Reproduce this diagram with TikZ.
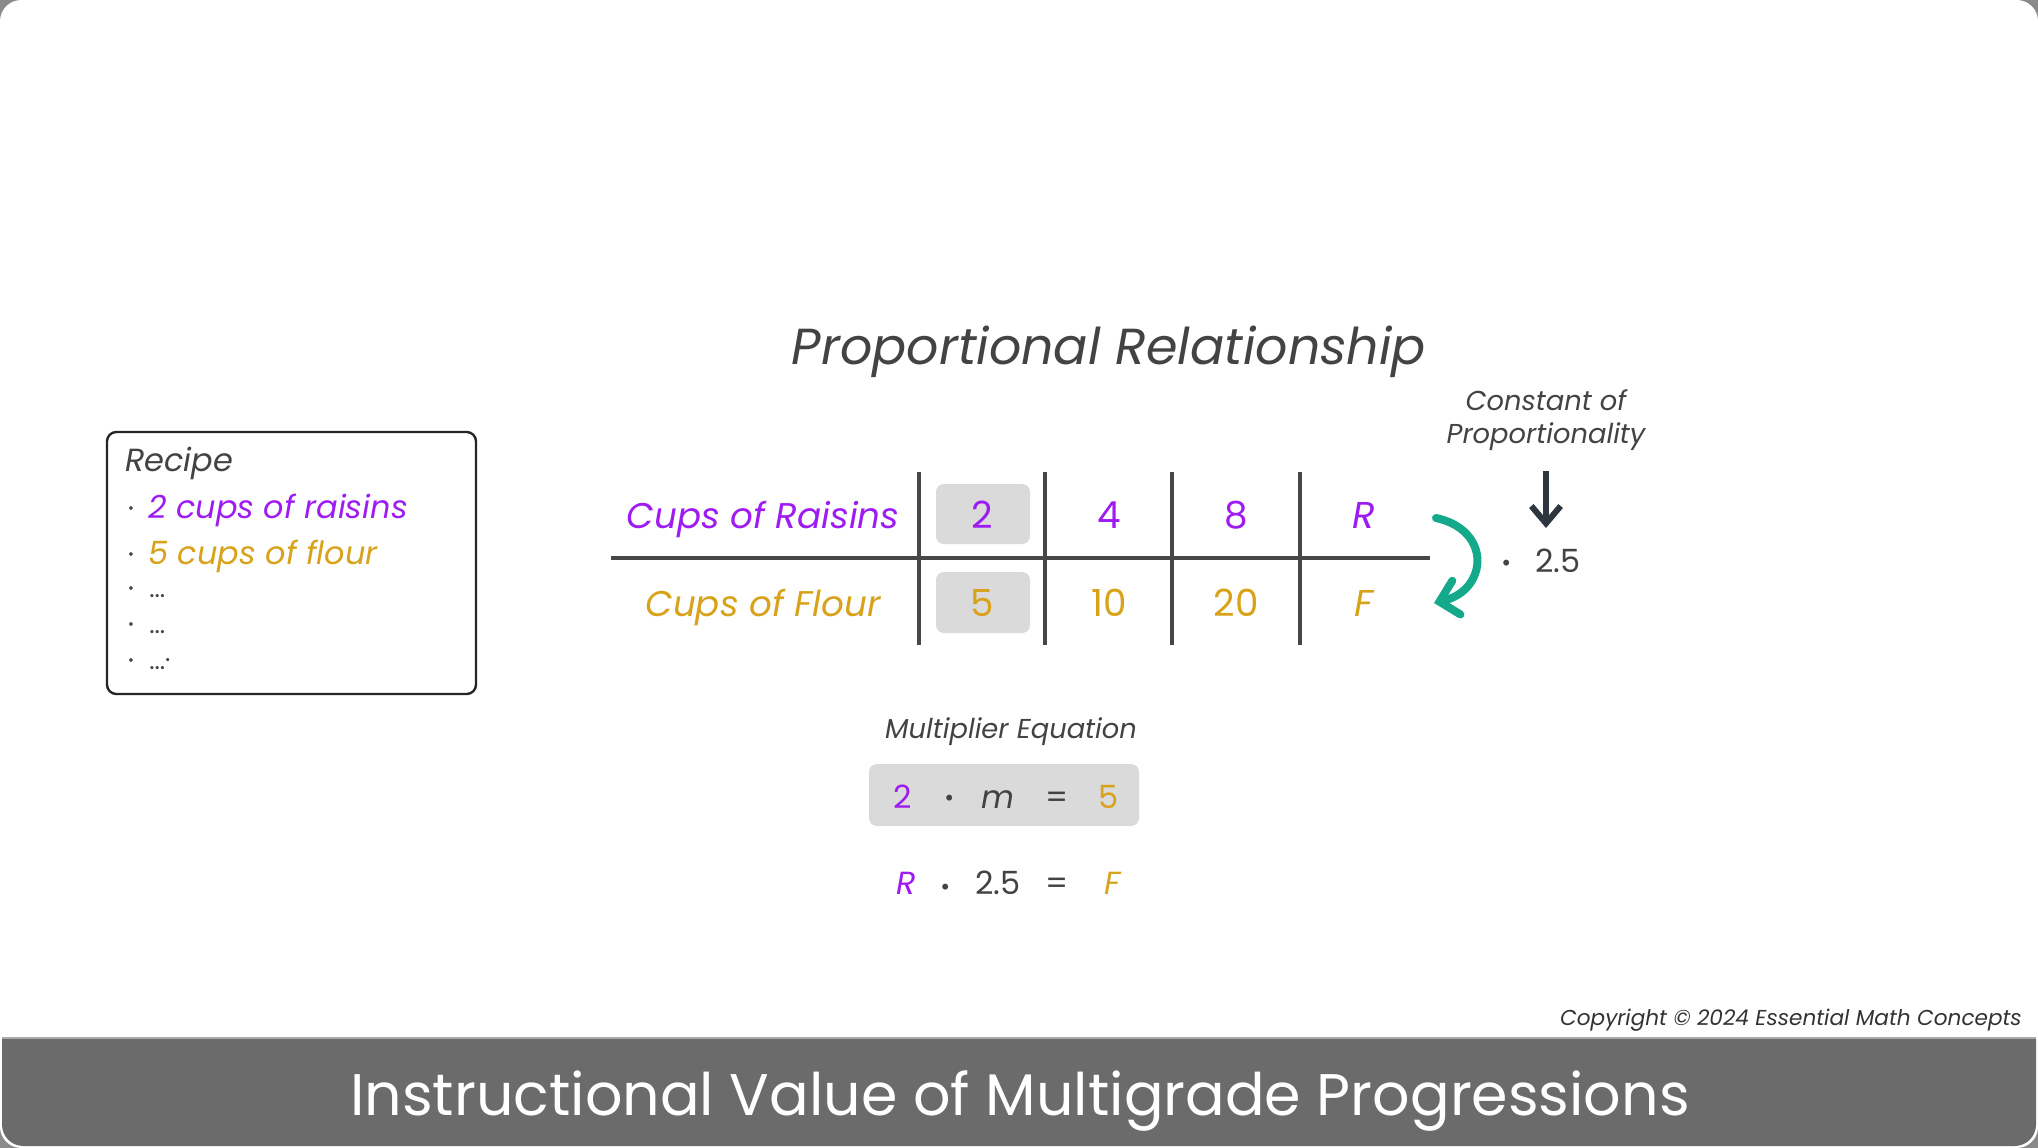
\documentclass[tikz,border=0pt]{standalone}
\usepackage{fontspec}
\setmainfont{Poppins}
\usetikzlibrary{arrows.meta}
\definecolor{purp}{HTML}{9E1CF2}
\definecolor{gold}{HTML}{D8A31A}
\definecolor{txtgray}{HTML}{434343}
\definecolor{boxgray}{HTML}{DADADA}
\definecolor{linegray}{HTML}{474747}
\definecolor{tealc}{HTML}{14A98B}
\definecolor{barcol}{HTML}{6B6B6B}
\definecolor{barline}{HTML}{ABABAB}
\definecolor{arrdark}{HTML}{2E3740}
\definecolor{framecol}{HTML}{8A8A8A}
\newcommand\myfs[1]{\fontsize{#1}{#1}\selectfont}
\tikzset{
  txt/.style={inner sep=0pt, anchor=base, text=txtgray},
  ttl/.style={txt, font=\myfs{38}\itshape},
  cell/.style={txt, font=\myfs{28}},
  rowlbl/.style={txt, font=\myfs{26.8}\itshape},
  recipe/.style={txt, anchor=base west, font=\myfs{24}\itshape},
  bul/.style={txt, font=\myfs{22}},
  smallit/.style={txt, font=\myfs{20.5}\itshape},
  eq/.style={txt, font=\myfs{24}},
  eqdot/.style={txt, font=\myfs{36}},
  hilite/.style={fill=boxgray, rounded corners=6pt},
  tline/.style={draw=linegray, line width=3pt},
}
\begin{document}
\begin{tikzpicture}[x=0.75pt,y=-0.75pt]
\useasboundingbox (0,0) rectangle (2038,1148);
% frame
\fill[framecol] (0,0) rectangle (2038,1148);
\fill[white, rounded corners=16pt] (0,0) rectangle (2038,1148);
\fill[barcol, rounded corners=16pt] (2,1000) rectangle (2036,1146);
\fill[white] (0,990) rectangle (2038,1038);
\draw[barline, line width=1.2pt] (2,1038) -- (2036,1038);
% title
\node[ttl] (title) at (1109,364) {Proportional Relationship};
% recipe box
\draw[black!85, line width=1.8pt, rounded corners=7pt] (107,432) rectangle (476,694);
\node[recipe] (rtitle) at (125,471) {Recipe};
\node[recipe, text=purp] (ritem1) at (148,518) {2 cups of raisins};
\node[recipe, text=gold] (ritem2) at (148,564) {5 cups of flour};
\node[recipe, font=\myfs{19}] (ritem3) at (149,597) {...};
\node[recipe, font=\myfs{19}] (ritem4) at (149,633) {...};
\node[recipe, font=\myfs{19}] (ritem5) at (149,669) {...\raisebox{6pt}{.}};
\foreach \y/\n in {518/1,564/2,598/3,634/4,670/5}
  \node[bul] (rb\n) at (131,\y) {·};
% table highlights
\fill[hilite] (936,484) rectangle (1030,544);
\fill[hilite] (936,572) rectangle (1030,633);
% table lines
\draw[tline] (611,558) -- (1430,558);
\foreach \x in {919,1045,1172,1300}
  \draw[tline] (\x,472) -- (\x,645);
% table text
\node[rowlbl, text=purp] (lblR) at (763,528) {Cups of Raisins};
\node[rowlbl, text=gold] (lblF) at (763,616) {Cups of Flour};
\node[cell, text=purp] (r1) at (982,528) {2};
\node[cell, text=purp] (r2) at (1109,528) {4};
\node[cell, text=purp] (r3) at (1236,528) {8};
\node[cell, text=purp, font=\myfs{28}\itshape] (r4) at (1364,528) {R};
\node[cell, text=gold] (f1) at (982,616) {5};
\node[cell, text=gold] (f2) at (1109,616) {10};
\node[cell, text=gold] (f3) at (1236,616) {20};
\node[cell, text=gold, font=\myfs{28}\itshape] (f4) at (1364,616) {F};
% constant of proportionality
\node[smallit] (const1) at (1546,410) {Constant of};
\node[smallit] (const2) at (1546,443) {Proportionality};
\node[eqdot] (cdot) at (1507,579) {·};
\node[eq] (cval) at (1558,572) {2.5};
\coordinate (darrtop) at (1546,471);
\coordinate (darrtip) at (1546,528);
\draw[arrdark, line width=4.5pt, -{Straight Barb[length=13pt,width=22pt,line width=4.5pt]}] (darrtop) -- (darrtip);
% teal arrow
\coordinate (tstart) at (1436,518);
\coordinate (tend) at (1434,603);
\draw[tealc, line width=6pt, line cap=round, -{Straight Barb[length=13pt,width=26pt,line width=6pt, line cap=round]}] (tstart) .. controls (1492,530) and (1488,590) .. (tend);
% multiplier equation
\node[smallit] (mtitle) at (1011,738) {Multiplier Equation};
\fill[hilite] (869,764) rectangle (1139,826);
\node[eq, text=purp] (e1) at (903,808) {2};
\node[eqdot] (e2) at (950,814) {·};
\node[eq, font=\myfs{24}\itshape] (e3) at (998,808) {m};
\node[eq] (e4) at (1057,808) {=};
\node[eq, text=gold] (e5) at (1109,808) {5};
\node[eq, text=purp, font=\myfs{24}\itshape] (g1) at (906,894) {R};
\node[eqdot] (g2) at (946,903) {·};
\node[eq] (g3) at (998,894) {2.5};
\node[eq] (g4) at (1057,894) {=};
\node[eq, text=gold, font=\myfs{24}\itshape] (g5) at (1113,894) {F};
% copyright
\node[txt, anchor=base east, font=\myfs{16.2}\itshape, text=black!80] (copy) at (2022,1025) {Copyright © 2024 Essential Math Concepts};
% bottom title
\node[txt, text=white, font=\myfs{44}] (btitle) at (1020,1115) {Instructional Value of Multigrade Progressions};
\end{tikzpicture}
\end{document}
